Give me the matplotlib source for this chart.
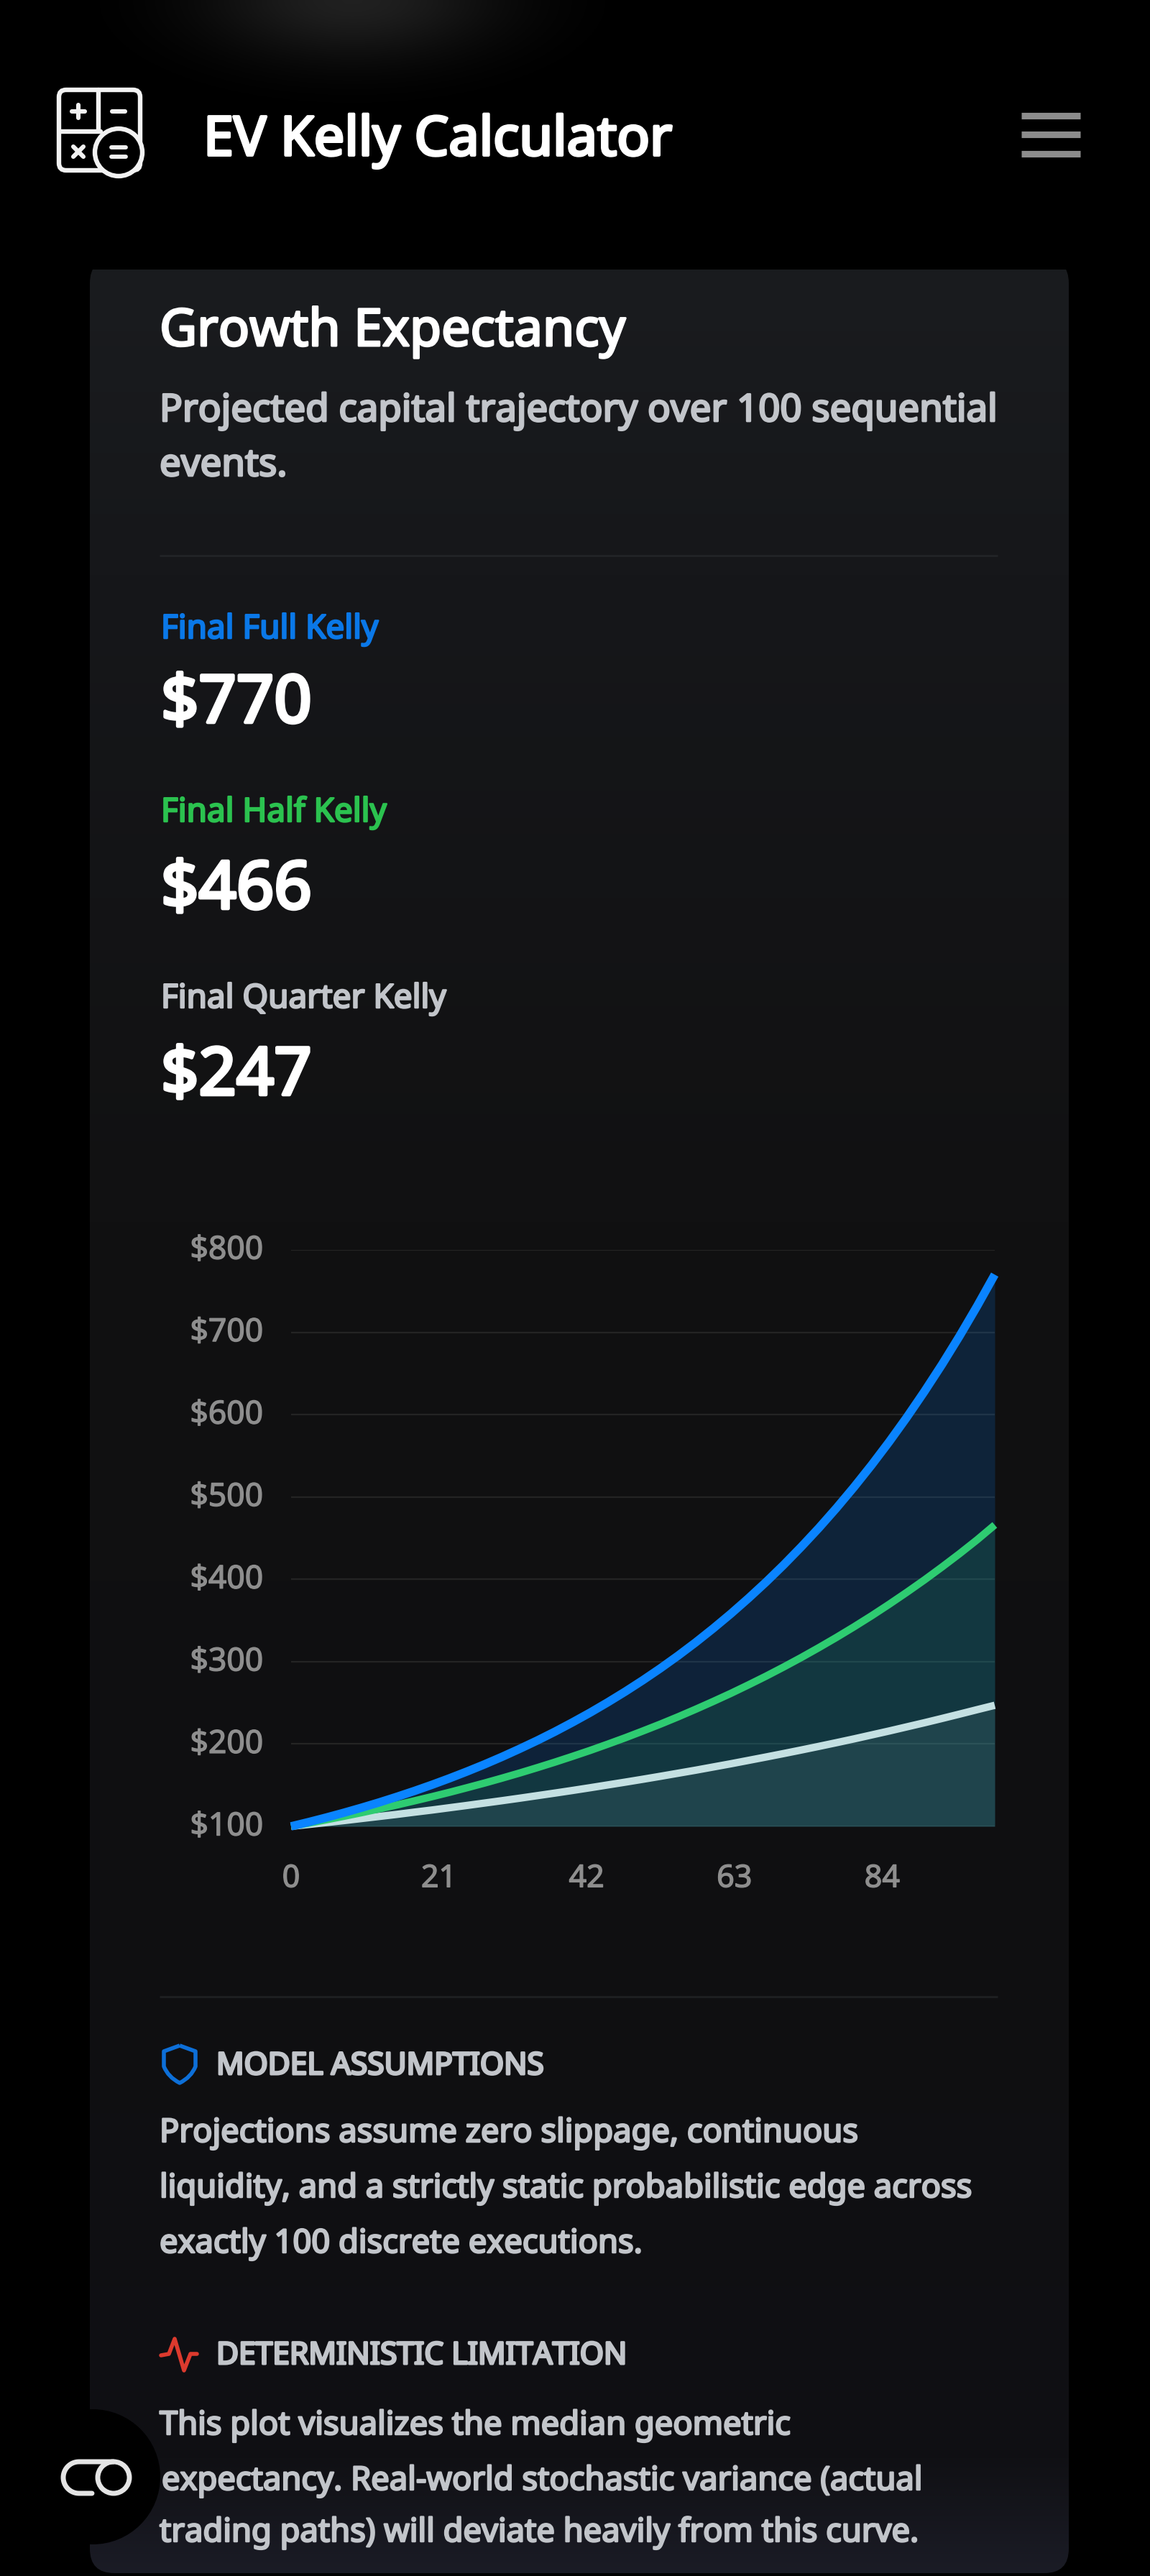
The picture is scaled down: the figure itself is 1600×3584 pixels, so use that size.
import numpy as np
import matplotlib
matplotlib.use('Agg')
import matplotlib.pyplot as plt
import matplotlib.patheffects as pe
from matplotlib.patches import FancyBboxPatch, Circle, PathPatch
from matplotlib.path import Path
from matplotlib.transforms import ScaledTranslation

# === DATA ===
events = [i * 2.5 for i in range(41)]
full_kelly = [100, 105.2, 110.7, 116.5, 122.6, 129, 135.8, 142.9, 150.4, 158.3, 166.6, 175.3, 184.5, 194.2,
              204.3, 215, 226.3, 238.1, 250.6, 263.7, 277.5, 292, 307.3, 323.4, 340.4, 358.2, 377, 396.7,
              417.5, 439.4, 462.3, 486.5, 512, 538.8, 567, 596.7, 628, 660.8, 695.4, 731.8, 770]
half_kelly = [100, 103.9, 108, 112.2, 116.6, 121.2, 125.9, 130.9, 136, 141.3, 146.9, 152.6, 158.6, 164.8,
              171.3, 178, 185, 192.2, 199.8, 207.6, 215.8, 224.2, 233, 242.2, 251.7, 261.5, 271.8, 282.4,
              293.5, 305, 317, 329.4, 342.3, 355.7, 369.7, 384.2, 399.2, 414.9, 431.1, 448, 466]
quarter_kelly = [100, 102.3, 104.6, 107, 109.5, 112, 114.5, 117.2, 119.8, 122.6, 125.4, 128.3, 131.2, 134.2,
                 137.3, 140.4, 143.6, 146.9, 150.3, 153.7, 157.2, 160.8, 164.5, 168.2, 172.1, 176, 180.1,
                 184.2, 188.4, 192.7, 197.1, 201.6, 206.2, 211, 215.8, 220.8, 225.8, 231, 236.3, 241.7, 247]
y_ticks = [100, 200, 300, 400, 500, 600, 700, 800]
y_tick_labels = ['$100', '$200', '$300', '$400', '$500', '$600', '$700', '$800']
x_ticks = [0, 21, 42, 63, 84]
x_tick_labels = ['0', '21', '42', '63', '84']

# === CONFIG ===
W, H = 1600, 3584
FONT = ['Noto Sans', 'DejaVu Sans']
BLUE = '#0a84ff'
GREEN = '#2ecc71'
PALE = '#c4e0e2'
GREY_TEXT = '#c2c5ca'
TICK_GREY = '#8e8e8e'

fig = plt.figure(figsize=(W / 100, H / 100), dpi=100, facecolor='black')

# page layer in pixel coords
bg = fig.add_axes([0, 0, 1, 1], zorder=0)
bg.set_xlim(0, W)
bg.set_ylim(H, 0)
bg.axis('off')

# === CARD ===
stops_y = [375, 800, 1700, 2700, 3420, 3580]
stops_c = [(26, 28, 31), (22, 23, 26), (17, 17, 18), (15, 15, 17), (16, 16, 20), (27, 28, 38)]
rows = np.arange(375, 3581)
grad = np.stack([np.interp(rows, stops_y, [c[i] for c in stops_c]) for i in range(3)], axis=1) / 255
im = bg.imshow(grad[:, None, :], extent=(125, 1487, 3580, 375), aspect='auto', zorder=1, interpolation='bilinear')
card = FancyBboxPatch((125 + 34, 360 + 34), 1362 - 68, 3220 - 68, boxstyle='round,pad=34', transform=bg.transData,
                      fc='none', ec='none')
bg.add_patch(card)
im.set_clip_path(card)

# glow above the header
gy, gx = np.mgrid[0:200, 0:1000]
glow_rgba = np.ones((200, 1000, 4))
glow_rgba[..., 3] = np.exp(-((gx - 490) / 210.0) ** 2) * np.exp(-(gy / 85.0) ** 2) * 0.13
bg.imshow(glow_rgba, extent=(0, 1000, 200, 0), aspect='auto', zorder=1)
bg.set_xlim(0, W)
bg.set_ylim(H, 0)


def txt(x, y, s, size, color, bold=1.8):
    t = bg.text(x, y, s, fontsize=size, color=color, family=FONT, ha='left', va='baseline', zorder=5)
    # only the regular cut of Noto Sans is available, thicken it
    t.set_path_effects([pe.withStroke(linewidth=bold, foreground=color)])


def stroke(xs, ys, color, lw, cap='round'):
    bg.plot(xs, ys, color=color, lw=lw, solid_capstyle=cap, solid_joinstyle='round', zorder=5)


# === HEADER ===
icon = '#f2f2f2'
bg.add_patch(FancyBboxPatch((92, 135), 93, 92, boxstyle='round,pad=10', fc='none', ec=icon, lw=4.6, zorder=4))
stroke([137, 137], [125, 182], icon, 4.6)
stroke([84, 140], [183, 183], icon, 4.6)
bg.add_patch(Circle((165, 212), 33, fc='black', ec=icon, lw=4.6, zorder=4.5))
stroke([100, 118], [155, 155], icon, 4.4)
stroke([109, 109], [146, 164], icon, 4.4)
stroke([156, 174], [155, 155], icon, 4.4)
stroke([102, 116], [204, 218], icon, 4.4)
stroke([102, 116], [218, 204], icon, 4.4)
stroke([155, 175], [205, 205], icon, 4.2)
stroke([155, 175], [218, 218], icon, 4.2)
txt(283, 216, 'EV Kelly Calculator', 54.4, 'white', bold=2.8)
for hy in [161, 187, 214]:
    stroke([1421, 1503], [hy, hy], '#8c8c8c', 6.6, cap='butt')

# === CARD TEXT ===
txt(222, 481, 'Growth Expectancy', 51.6, 'white', bold=2.2)
txt(222, 586, 'Projected capital trajectory over 100 sequential', 38, GREY_TEXT, bold=2)
txt(222, 662, 'events.', 38, GREY_TEXT, bold=2)
stroke([222, 1388], [773, 773], '#222427', 2, cap='butt')

txt(224, 888, 'Final Full Kelly', 33, '#0a78e8')
txt(224, 1005, '$770', 66, 'white', bold=3.4)
txt(224, 1143, 'Final Half Kelly', 33, '#2bc24f')
txt(224, 1264, '$466', 66, 'white', bold=3.4)
txt(224, 1402, 'Final Quarter Kelly', 33, GREY_TEXT)
txt(224, 1523, '$247', 66, 'white', bold=3.4)

stroke([222, 1388], [2778, 2778], '#1f2022', 2, cap='butt')

# === NOTES ===
shield = Path([(250, 2846), (272, 2854), (272, 2875), (266, 2890), (250, 2898), (234, 2890), (228, 2875), (228, 2854), (250, 2846)],
              [Path.MOVETO, Path.LINETO, Path.LINETO, Path.CURVE3, Path.CURVE3, Path.CURVE3, Path.CURVE3, Path.LINETO, Path.LINETO])
bg.add_patch(PathPatch(shield, fc='none', ec='#0d6fd8', lw=4, joinstyle='round', zorder=5))
txt(301, 2886, 'MODEL ASSUMPTIONS', 30.6, GREY_TEXT, bold=2.2)
txt(222, 2980, 'Projections assume zero slippage, continuous', 32.6, GREY_TEXT)
txt(222, 3057, 'liquidity, and a strictly static probabilistic edge across', 32.6, GREY_TEXT)
txt(222, 3134, 'exactly 100 discrete executions.', 32.6, GREY_TEXT)

stroke([224, 235, 243, 256, 265, 274], [3277, 3275, 3254, 3298, 3275, 3275], '#dc3a2e', 4)
txt(301, 3289, 'DETERMINISTIC LIMITATION', 30.6, GREY_TEXT, bold=2.2)
txt(222, 3387, 'This plot visualizes the median geometric', 32.6, GREY_TEXT)
txt(225, 3464, 'expectancy. Real-world stochastic variance (actual', 32.6, GREY_TEXT)
txt(222, 3536, 'trading paths) will deviate heavily from this curve.', 32.6, GREY_TEXT)

# === BADGE ===
bg.add_patch(Circle((129, 3446), 94, fc='black', ec='none', zorder=4))
bg.add_patch(Circle((158, 3447), 22, fc='none', ec='#e4e4e4', lw=5, zorder=5))
t = np.linspace(np.pi / 2, 3 * np.pi / 2, 30)
link_x = np.concatenate([[158], 110 + 22 * np.cos(t), [128]])
link_y = np.concatenate([[3425], 3447 - 22 * np.sin(t), [3469]])
stroke(link_x, link_y, '#e4e4e4', 5)

# === CHART ===
ax = fig.add_axes([405 / W, 1 - 2541 / H, (1384 - 405) / W, (2541 - 1739) / H], zorder=2)
ax.patch.set_alpha(0)
ax.set_xlim(0, 100)
ax.set_ylim(100, 800)
for s in ax.spines.values():
    s.set_visible(False)
ax.set_yticks(y_ticks, y_tick_labels, family=FONT)
ax.set_xticks(x_ticks, x_tick_labels, family=FONT)
ax.tick_params(axis='y', length=0, pad=28, labelsize=32, labelcolor=TICK_GREY)
ax.tick_params(axis='x', length=0, pad=37, labelsize=31, labelcolor=TICK_GREY)
for lbl in ax.get_yticklabels():
    lbl.set_va('center_baseline')
    lbl.set_transform(lbl.get_transform() + ScaledTranslation(0, 0.04, fig.dpi_scale_trans))
for lbl in ax.get_xticklabels() + ax.get_yticklabels():
    lbl.set_path_effects([pe.withStroke(linewidth=1.0, foreground=TICK_GREY)])
ax.grid(True, axis='y', color='#242424', lw=1.6, zorder=0)
ax.set_axisbelow(True)

ax.fill_between(events, 100, full_kelly, color=BLUE, alpha=0.17, lw=0, zorder=1)
ax.fill_between(events, 100, half_kelly, color=GREEN, alpha=0.13, lw=0, zorder=1)
ax.fill_between(events, 100, quarter_kelly, color=PALE, alpha=0.08, lw=0, zorder=1)
ax.plot(events, quarter_kelly, color=PALE, lw=7.4, solid_capstyle='butt', clip_on=False, zorder=3)
ax.plot(events, half_kelly, color=GREEN, lw=7.4, solid_capstyle='butt', clip_on=False, zorder=3)
ax.plot(events, full_kelly, color=BLUE, lw=8.4, solid_capstyle='butt', clip_on=False, zorder=3)

fig.savefig('out.png', dpi=100, facecolor='black')
